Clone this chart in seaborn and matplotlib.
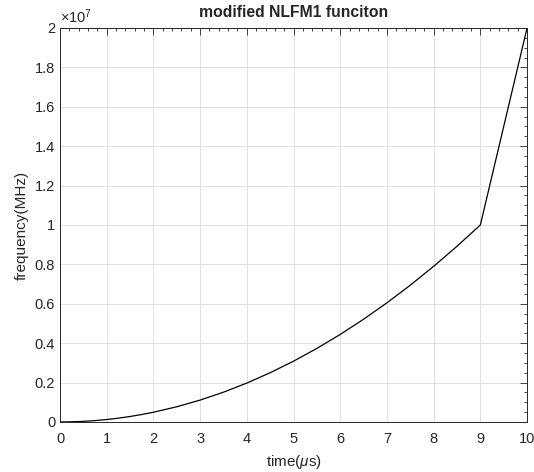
import numpy as np
import pandas as pd
import matplotlib
matplotlib.use("Agg")
import matplotlib.pyplot as plt
import matplotlib.ticker as mticker
import seaborn as sns

# values
time_us = [0, 0.25, 0.5, 0.75, 1, 1.25, 1.5, 1.75, 2, 2.5, 3, 3.5, 4, 4.5, 5, 5.5,
           6, 6.5, 7, 7.5, 8, 8.5, 9, 10]
freq_hz = [0, 0.008e6, 0.031e6, 0.069e6, 0.123e6, 0.193e6, 0.278e6, 0.378e6,
           0.494e6, 0.772e6, 1.111e6, 1.512e6, 1.975e6, 2.5e6, 3.086e6, 3.735e6,
           4.444e6, 5.216e6, 6.049e6, 6.944e6, 7.901e6, 8.92e6, 10.0e6, 20.0e6]

data = pd.DataFrame({"time": time_us, "freq": freq_hz})

sns.set_style("white")
plt.rcParams["font.family"] = ["Liberation Sans", "DejaVu Sans"]
plt.rcParams["mathtext.fontset"] = "custom"
plt.rcParams["mathtext.it"] = "Liberation Sans:italic"
plt.rcParams["mathtext.rm"] = "Liberation Sans"

fig = plt.figure(figsize=(5.34, 4.72), dpi=100)
ax = fig.add_axes([0.1124, 0.106, 0.8746, 0.8347])

sns.lineplot(data=data, x="time", y="freq", color="black", linewidth=0.9, ax=ax)

ax.set_xlim(0, 10)
ax.set_ylim(0, 2e7)
ax.set_xticks(np.arange(0, 11, 1))
ax.set_yticks(np.arange(0, 2.01e7, 0.2e7))
ax.yaxis.set_major_formatter(mticker.FuncFormatter(lambda v, p: f"{v / 1e7:g}"))
ax.xaxis.set_minor_locator(mticker.AutoMinorLocator(5))
ax.yaxis.set_minor_locator(mticker.AutoMinorLocator(4))
ax.tick_params(which="both", direction="in", top=True, right=True, colors="#262626",
               labelsize=10.5, labelcolor="#262626")
ax.tick_params(axis="x", which="major", pad=7)
ax.tick_params(which="major", length=5, width=0.6)
ax.tick_params(which="minor", length=2.5, width=0.6)
ax.grid(True, which="major", color="#e0e0e0", linewidth=0.7)
for s in ax.spines.values():
    s.set_color("#262626")
    s.set_linewidth(0.7)

ax.text(0.0, 1.005, r"$\times10^{7}$", transform=ax.transAxes, fontsize=10.5,
        color="#262626", va="bottom", ha="left")
ax.set_title("modified NLFM1 funciton", fontsize=11.3, fontweight="bold", pad=8)
ax.set_xlabel(r"time($\mu$s)", fontsize=11, color="#262626", labelpad=5)
ax.set_ylabel("frequency(MHz)", fontsize=11, color="#262626", labelpad=4)
if ax.get_legend() is not None:
    ax.get_legend().remove()

fig.savefig("out.png", dpi=100)
